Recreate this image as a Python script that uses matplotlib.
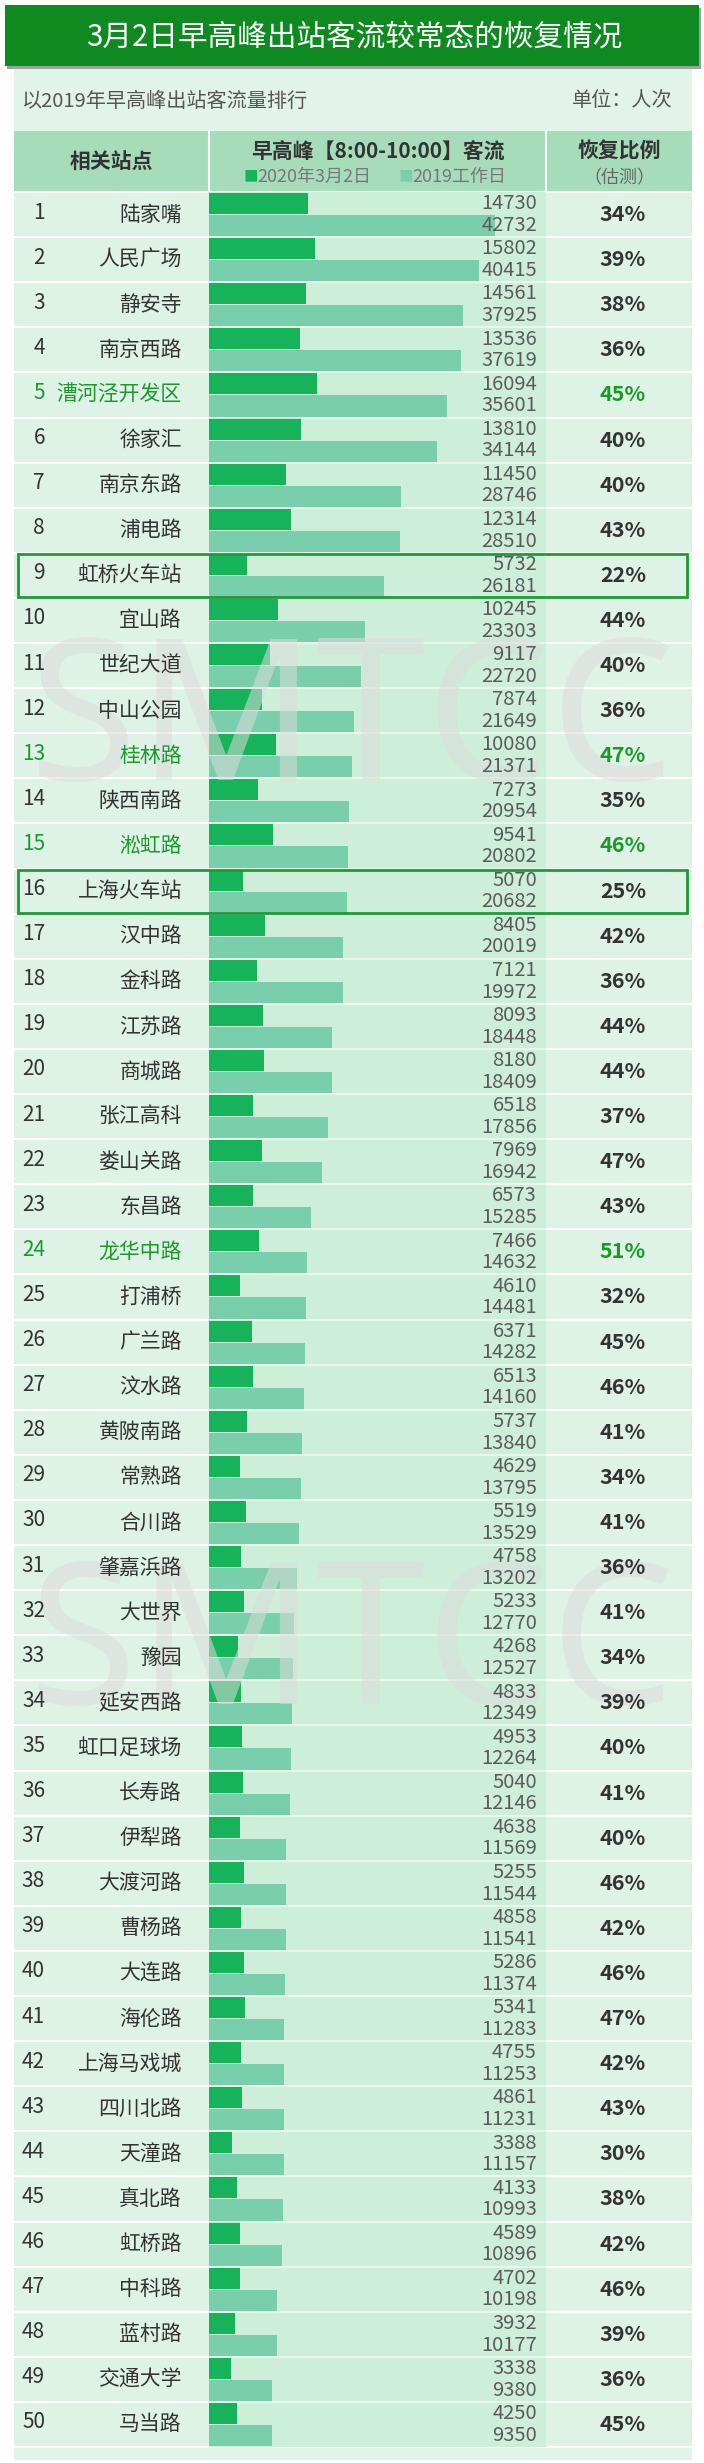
import numpy as np
import matplotlib
matplotlib.use('Agg')
import matplotlib.pyplot as plt
from matplotlib.patches import Rectangle

plt.rcParams['font.family'] = ['Noto Sans CJK SC', 'DejaVu Sans']

# data (ranked by 2019 morning peak exit flow)
stations = [
    '陆家嘴', '人民广场', '静安寺', '南京西路', '漕河泾开发区', '徐家汇', '南京东路', '浦电路',
    '虹桥火车站', '宜山路', '世纪大道', '中山公园', '桂林路', '陕西南路', '淞虹路', '上海火车站',
    '汉中路', '金科路', '江苏路', '商城路', '张江高科', '娄山关路', '东昌路', '龙华中路',
    '打浦桥', '广兰路', '汶水路', '黄陂南路', '常熟路', '合川路', '肇嘉浜路', '大世界',
    '豫园', '延安西路', '虹口足球场', '长寿路', '伊犁路', '大渡河路', '曹杨路', '大连路',
    '海伦路', '上海马戏城', '四川北路', '天潼路', '真北路', '虹桥路', '中科路', '蓝村路',
    '交通大学', '马当路',
]
flow_2020 = [
    14730, 15802, 14561, 13536, 16094, 13810, 11450, 12314, 5732, 10245,
    9117, 7874, 10080, 7273, 9541, 5070, 8405, 7121, 8093, 8180,
    6518, 7969, 6573, 7466, 4610, 6371, 6513, 5737, 4629, 5519,
    4758, 5233, 4268, 4833, 4953, 5040, 4638, 5255, 4858, 5286,
    5341, 4755, 4861, 3388, 4133, 4589, 4702, 3932, 3338, 4250,
]
flow_2019 = [
    42732, 40415, 37925, 37619, 35601, 34144, 28746, 28510, 26181, 23303,
    22720, 21649, 21371, 20954, 20802, 20682, 20019, 19972, 18448, 18409,
    17856, 16942, 15285, 14632, 14481, 14282, 14160, 13840, 13795, 13529,
    13202, 12770, 12527, 12349, 12264, 12146, 11569, 11544, 11541, 11374,
    11283, 11253, 11231, 11157, 10993, 10896, 10198, 10177, 9380, 9350,
]
recovery = [
    34, 39, 38, 36, 45, 40, 40, 43, 22, 44,
    40, 36, 47, 35, 46, 25, 42, 36, 44, 44,
    37, 47, 43, 51, 32, 45, 46, 41, 34, 41,
    36, 41, 34, 39, 40, 41, 40, 46, 42, 46,
    47, 42, 43, 30, 38, 42, 46, 39, 36, 45,
]
green_rows = ['漕河泾开发区', '桂林路', '淞虹路', '龙华中路']
boxed_rows = ['虹桥火车站', '上海火车站']

title = '3月2日早高峰出站客流较常态的恢复情况'
subtitle = '以2019年早高峰出站客流量排行'
unit = '单位：人次'
legend_labels = ['2020年3月2日', '2019工作日']

# colours
C_TITLE = '#0e8a20'
C_PANEL = '#e2f4e9'
C_HEAD = '#a7dcba'
C_BODY = '#dff2e6'
C_COL2 = '#cdeed9'
C_2020 = '#17b35a'
C_2019 = '#79cfab'
C_GREEN = '#1b9a2c'
C_DARK = '#333333'
C_GRAY = '#5b5b5b'

# layout in pixels
W, H = 704, 2463
TL, TR = 14, 692
X1, X2 = 209, 546
HEAD_T, ROWS_T = 131, 192
n = len(stations)
ROW_H = 45.1
ROWS_B = ROWS_T + n * ROW_H

fig = plt.figure(figsize=(W / 100, H / 100), dpi=100, facecolor='white')

# background axes in pixel coordinates
ax = fig.add_axes([0, 0, 1, 1], zorder=0)
ax.set_xlim(0, W)
ax.set_ylim(H, 0)
ax.axis('off')

ax.add_patch(Rectangle((TL, 66), TR - TL, 2460 - 66, color=C_PANEL, lw=0))
ax.add_patch(Rectangle((7, 8), 694, 61, color='#9aa69c', lw=0))
ax.add_patch(Rectangle((5, 5), 694, 61, color=C_TITLE, lw=0))
ax.add_patch(Rectangle((TL, HEAD_T), TR - TL, ROWS_T - HEAD_T, color=C_HEAD, lw=0))
ax.add_patch(Rectangle((TL, ROWS_T), TR - TL, ROWS_B - ROWS_T, color=C_BODY, lw=0))
ax.vlines([X1, X2], HEAD_T, ROWS_T, color='white', lw=1.5)
row_edges = ROWS_T + np.arange(n + 1) * ROW_H
ax.hlines(row_edges, TL, TR, color='white', lw=1.5)

# bars
axb = fig.add_axes([X1 / W, 1 - ROWS_B / H, (X2 - X1) / W, (ROWS_B - ROWS_T) / H], zorder=1)
axb.set_facecolor(C_COL2)
y = np.arange(n)
axb.barh(y + 0.255, flow_2020, height=0.47, color=C_2020, lw=0)
axb.barh(y + 0.745, flow_2019, height=0.47, color=C_2019, lw=0)
axb.hlines(np.arange(1, n), 0, 50380, color='#eef8f1', lw=1.2)
axb.set_xlim(0, 50380)
axb.set_ylim(n, 0)
axb.set_xticks([])
axb.set_yticks([])
for s in axb.spines.values():
    s.set_visible(False)

# text layer
axt = fig.add_axes([0, 0, 1, 1], zorder=2)
axt.set_xlim(0, W)
axt.set_ylim(H, 0)
axt.axis('off')
axt.patch.set_alpha(0)

for wy in (728, 1653):
    axt.text(352, wy, 'SMTCC', ha='center', va='center', fontsize=142,
             family='Noto Sans', color='#dcdcdc', alpha=0.55, zorder=1)

axt.text(354, 37, title, ha='center', va='center', fontsize=21.3,
         color='white', weight='medium', zorder=3)
axt.text(22, 101, subtitle, ha='left', va='center', fontsize=14.5, color='#555555', zorder=3)
axt.text(673, 101, unit, ha='right', va='center', fontsize=14.5, color='#555555', zorder=3)

axt.text((TL + X1) / 2, 161, '相关站点', ha='center', va='center', fontsize=15,
         weight='bold', color=C_DARK, zorder=3)
axt.text((X1 + X2) / 2, 151, '早高峰【8:00-10:00】客流', ha='center', va='center',
         fontsize=15, weight='bold', color=C_DARK, zorder=3)
axt.text(244, 177, '■', ha='left', va='center', fontsize=10.5, color=C_2020, zorder=3)
axt.text(257, 177, legend_labels[0], ha='left', va='center', fontsize=13, color='#777777', zorder=3)
axt.text(399, 177, '■', ha='left', va='center', fontsize=10.5, color=C_2019, zorder=3)
axt.text(412, 177, legend_labels[1], ha='left', va='center', fontsize=13, color='#777777', zorder=3)
axt.text((X2 + TR) / 2, 151, '恢复比例', ha='center', va='center', fontsize=15,
         weight='bold', color=C_DARK, zorder=3)
axt.text((X2 + TR) / 2, 178, '（估测）', ha='center', va='center', fontsize=13,
         color='#666666', zorder=3)

for i, name in enumerate(stations):
    top = ROWS_T + i * ROW_H
    mid = top + ROW_H / 2
    col = C_GREEN if name in green_rows else C_DARK
    axt.text(45, mid - 2, str(i + 1), ha='right', va='center', fontsize=15, color=col, zorder=3)
    axt.text(182, mid, name, ha='right', va='center', fontsize=15, weight='medium',
             color=col, zorder=3)
    axt.text(537, top + ROW_H * 0.26, str(flow_2020[i]), ha='right', va='center',
             fontsize=14.5, color=C_GRAY, zorder=3)
    axt.text(537, top + ROW_H * 0.74, str(flow_2019[i]), ha='right', va='center',
             fontsize=14.5, color=C_GRAY, zorder=3)
    axt.text(623, mid, f'{recovery[i]}%', ha='center', va='center', fontsize=15.5,
             weight='bold', color=col, zorder=3)
    if name in boxed_rows:
        axt.add_patch(Rectangle((18, top + 1), 669, ROW_H - 2, fill=False,
                                edgecolor='#1f9a3a', lw=2, zorder=4))

fig.savefig('out.png', dpi=100, facecolor='white')
